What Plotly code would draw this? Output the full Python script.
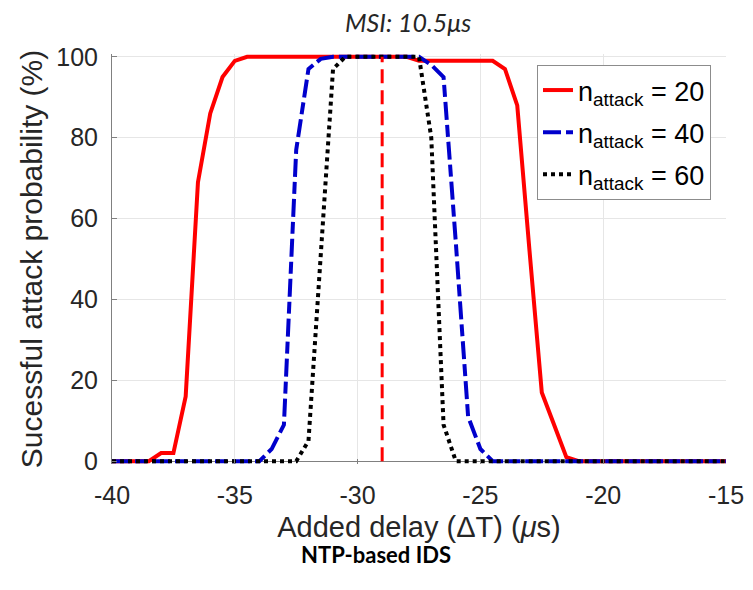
import plotly.graph_objects as go

# ---- data ----
x_delay = [-40.0, -39.5, -39.0, -38.5, -38.0, -37.5, -37.0, -36.5, -36.0, -35.5, -35.0, -34.5, -34.0,
           -33.5, -33.0, -32.5, -32.0, -31.5, -31.0, -30.5, -30.0, -29.5, -29.0, -28.5, -28.0,
           -27.5, -27.0, -26.5, -26.0, -25.5, -25.0, -24.5, -24.0, -23.5, -23.0, -22.5, -22.0,
           -21.5, -21.0, -20.5, -20.0, -19.5, -19.0, -18.5, -18.0, -17.5, -17.0, -16.5, -16.0,
           -15.5, -15.0]

p_n20 = [0, 0, 0, 0, 2, 2, 16, 69, 86, 95, 99, 100, 100,
         100, 100, 100, 100, 100, 100, 100, 100, 100, 100, 100, 100,
         99, 99, 99, 99, 99, 99, 99, 97, 88, 52, 17, 9,
         1, 0, 0, 0, 0, 0, 0, 0, 0, 0, 0, 0,
         0, 0]

p_n40 = [0, 0, 0, 0, 0, 0, 0, 0, 0, 0, 0, 0, 0,
         3, 9, 77, 97, 99.5, 100, 100, 100, 100, 100, 100, 100,
         100, 98, 95, 54, 11, 3, 0, 0, 0, 0, 0, 0,
         0, 0, 0, 0, 0, 0, 0, 0, 0, 0, 0, 0,
         0, 0]

p_n60 = [0, 0, 0, 0, 0, 0, 0, 0, 0, 0, 0, 0, 0,
         0, 0, 0, 5, 51, 97, 100, 100, 100, 100, 100, 100,
         100, 80, 9, 0, 0, 0, 0, 0, 0, 0, 0, 0,
         0, 0, 0, 0, 0, 0, 0, 0, 0, 0, 0, 0,
         0, 0]

msi_x = [-29, -29]
msi_y = [0, 100]

series_names = ["n<sub>attack</sub> = 20", "n<sub>attack</sub> = 40", "n<sub>attack</sub> = 60"]
x_ticks = [-40, -35, -30, -25, -20, -15]
y_ticks = [0, 20, 40, 60, 80, 100]

fig = go.Figure()
fig.add_trace(go.Scatter(x=x_delay, y=p_n20, mode="lines", name=series_names[0], legendgroup="g20",
                         line=dict(color="#ff0000", width=4)))
fig.add_trace(go.Scatter(x=x_delay, y=p_n40, mode="lines", name=series_names[1], legendgroup="g40",
                         line=dict(color="#0000cc", width=4, dash="18px,5px,12px,5px")))
fig.add_trace(go.Scatter(x=x_delay, y=p_n60, mode="lines", name=series_names[2], legendgroup="g60",
                         line=dict(color="#000000", width=4, dash="4px,4px")))
fig.add_trace(go.Scatter(x=msi_x, y=msi_y, mode="lines", showlegend=False,
                         line=dict(color="#ff0000", width=3, dash="14px,7px")))

tick_font = dict(family="Liberation Sans", size=25, color="#262626")

# page has an 8px body offset: page coordinate = figure coordinate + 8
OFF = 8
W, H = 753, 590
L = 112 - OFF
R = W - (726 - OFF)
T = 54 - OFF
B = H - (464 - OFF)
pw, ph = W - L - R, H - T - B

def px_to_plot(xp, yp):
    return (xp - OFF - L) / pw, (H - B - (yp - OFF)) / ph

tx, ty = px_to_plot(408, 22)
bx, by = px_to_plot(376, 554)
lx, ly = px_to_plot(537, 65)

fig.update_layout(
    width=W, height=H,
    paper_bgcolor="white", plot_bgcolor="white",
    margin=dict(l=L, r=R, t=T, b=B),
    showlegend=True,
    legend=dict(x=lx, y=ly, xanchor="left", yanchor="top",
                bgcolor="white", bordercolor="#8c8c8c", borderwidth=1,
                font=dict(family="Liberation Sans", size=27, color="#000000"),
                tracegroupgap=4),
    xaxis=dict(range=[-40, -15], tickvals=x_ticks, ticktext=[str(v) for v in x_ticks],
               automargin=False,
               showgrid=True, gridcolor="#e6e6e6", gridwidth=1,
               showline=False, zeroline=False,
               ticks="inside", ticklen=5, tickcolor="#808080",
               tickfont=tick_font, ticklabelstandoff=14,
               title=dict(text="Added delay (ΔT) (<i>μ</i>s)", standoff=8,
                          font=dict(family="Liberation Sans", size=29, color="#262626"))),
    yaxis=dict(range=[-0.7, 100.7], tickvals=y_ticks, ticktext=[str(v) for v in y_ticks],
               automargin=False,
               showgrid=True, gridcolor="#e6e6e6", gridwidth=1,
               showline=True, linecolor="#808080", linewidth=1,
               zeroline=True, zerolinecolor="#808080", zerolinewidth=1,
               ticks="inside", ticklen=5, tickcolor="#808080",
               tickfont=tick_font, ticklabelstandoff=8,
               title=dict(text="Sucessful attack probability (%)", standoff=4,
                          font=dict(family="Liberation Sans", size=30, color="#262626"))),
    annotations=[
        dict(text="<i>MSI: 10.5μs</i>", x=tx, y=ty, xref="paper", yref="paper",
             xanchor="center", yanchor="middle", showarrow=False, borderpad=0,
             font=dict(family="Lato", size=25, color="#262626")),
        dict(text="<b>NTP-based IDS</b>", x=bx, y=by, xref="paper", yref="paper",
             xanchor="center", yanchor="middle", showarrow=False,
             font=dict(family="Lato", size=22, color="#000000")),
    ],
)

fig.write_html("out.html")
